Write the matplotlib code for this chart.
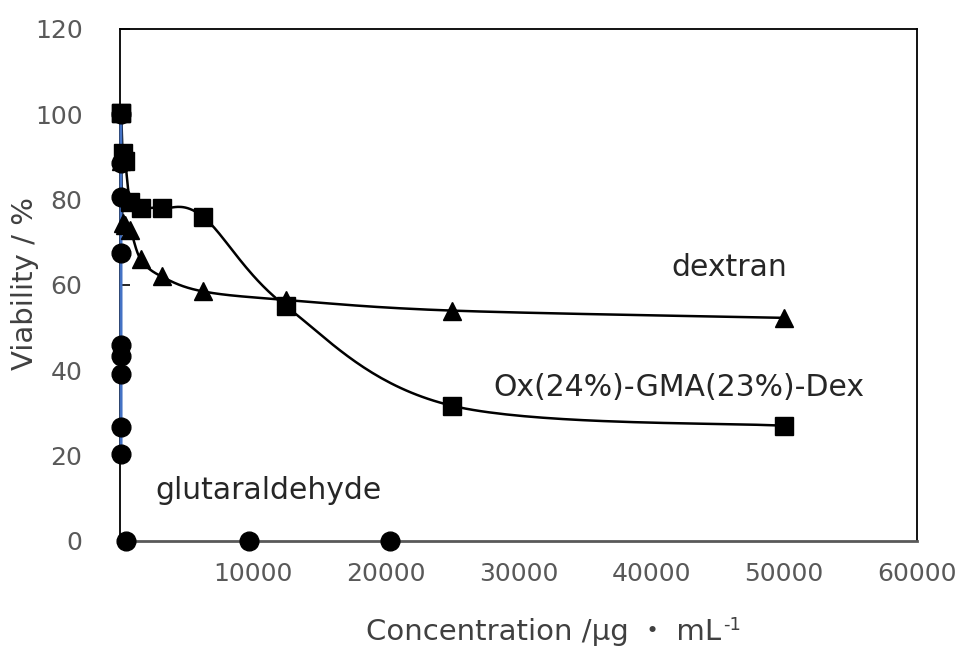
import numpy as np
import matplotlib
matplotlib.use("Agg")
import matplotlib.pyplot as plt

plt.rcParams['font.family'] = ['DejaVu Sans', 'Noto Sans CJK JP']

# ---- data (concentration in µg/mL, viability in %) ----
oxgma_conc = [49, 98, 195, 391, 781, 1563, 3125, 6250, 12500, 25000, 50000]
oxgma_via = [100.3, 100.3, 91.0, 89.0, 79.5, 78.0, 78.0, 76.0, 55.0, 31.7, 27.0]

dex_conc = [98, 195, 391, 781, 1563, 3125, 6250, 12500, 25000, 50000]
dex_via = [89.0, 74.5, 74.0, 73.0, 66.0, 62.0, 58.5, 56.5, 54.0, 52.3]

glu_conc = [70, 71, 72, 73, 74, 75, 76, 77, 78, 450, 9700, 20300]
glu_via = [100.0, 88.6, 80.6, 67.5, 46.0, 43.4, 39.1, 26.7, 20.4, 0.0, 0.0, 0.0]
glu_line_n = 9  # points joined by the fitted line

x_ticks = [10000, 20000, 30000, 40000, 50000, 60000]
y_ticks = [0, 20, 40, 60, 80, 100, 120]

labels = {
    'dextran': (45900, 64.0),
    'Ox(24%)-GMA(23%)-Dex': (42100, 36.0),
    'glutaraldehyde': (11200, 11.8),
}

fig = plt.figure(figsize=(9.56, 6.48), dpi=100)
ax = fig.add_axes([120/956, 1-541/648, (917-120)/956, (541-29)/648])
ax.set_xlim(0, 60000)
ax.set_ylim(0, 120)


def smooth(xs, ys, n=40):
    """Excel-like Bezier smoothing computed in display space."""
    pts = ax.transData.transform(np.column_stack([xs, ys]))
    P = np.vstack([pts[0], pts, pts[-1]])
    out = []
    t = np.linspace(0, 1, n)[:, None]
    for i in range(1, len(P) - 2):
        p0, p3 = P[i], P[i+1]
        p1 = p0 + (P[i+1] - P[i-1]) / 6.0
        p2 = p3 - (P[i+2] - P[i]) / 6.0
        seg = ((1-t)**3)*p0 + 3*((1-t)**2)*t*p1 + 3*(1-t)*t**2*p2 + t**3*p3
        out.append(seg)
    curve = np.vstack(out)
    return ax.transData.inverted().transform(curve)


c1 = smooth(oxgma_conc, oxgma_via)
ax.plot(c1[:, 0], c1[:, 1], color='black', lw=1.8, zorder=3)
c2 = smooth(dex_conc, dex_via)
ax.plot(c2[:, 0], c2[:, 1], color='black', lw=1.8, zorder=3)
ax.plot(glu_conc[:glu_line_n], glu_via[:glu_line_n], color='#4472C4', lw=2.2, zorder=3.5,
        clip_on=False)

ms = 13.5
ax.plot(glu_conc, glu_via, 'o', color='black', ms=ms, zorder=4, clip_on=False)
ax.plot(dex_conc, dex_via, '^', color='black', ms=ms, zorder=5, clip_on=False)
ax.plot(oxgma_conc, oxgma_via, 's', color='black', ms=ms, zorder=6, clip_on=False)

for txt, (x, y) in labels.items():
    ax.text(x, y, txt, ha='center', va='center', fontsize=21.5, color='#262626')

ax.set_xticks(x_ticks)
ax.set_xticklabels([str(v) for v in x_ticks])
ax.set_yticks(y_ticks)
ax.set_yticklabels([str(v) for v in y_ticks])
ax.tick_params(axis='x', length=0, pad=15, labelsize=18, labelcolor='#595959')
ax.tick_params(axis='y', direction='in', length=7, width=1.2, pad=27, labelsize=18,
               labelcolor='#595959')

for s in ax.spines.values():
    s.set_linewidth(1.3)
    s.set_color('black')
ax.spines['bottom'].set_color('#595959')
ax.spines['bottom'].set_linewidth(2.0)

# x-axis title with a raised "-1"
main = fig.text(544/956, 1-640/648, 'Concentration /μg ・ mL', ha='center', va='baseline',
                fontsize=21, color='#404040')
renderer = fig.canvas.get_renderer()
bb = main.get_window_extent(renderer)
fig.text((bb.x1 + 2)/956, 1-630/648, '-1', ha='left', va='baseline',
         fontsize=13, color='#404040')

fig.text(25/956, 1-283/648, 'Viability / %', ha='center', va='center', rotation=90,
         fontsize=21, color='#404040')

fig.savefig('out.png', dpi=100)
